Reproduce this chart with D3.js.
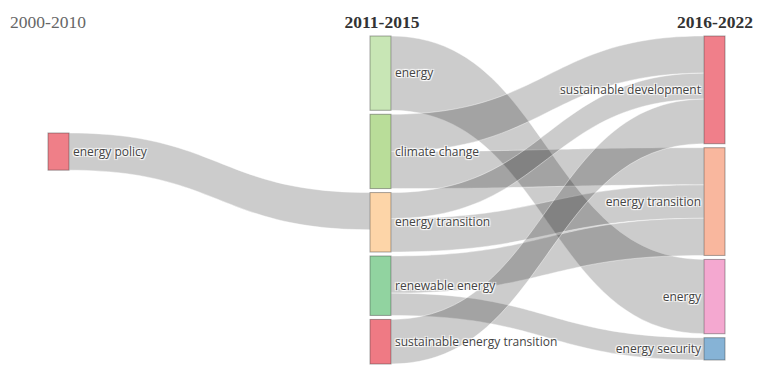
<!DOCTYPE html>
<html>
<head>
<meta charset="utf-8">
<script src="https://cdn.jsdelivr.net/npm/d3@7"></script>
<style>
  body { margin: 0; background: #fff; }
  .label { font-family: "Open Sans", sans-serif; font-size: 12px; fill: #444;
    text-shadow: 1px 1px 1px #fff, 1px -1px 1px #fff, -1px 1px 1px #fff, -1px -1px 1px #fff; }
  .period { font-family: "Liberation Serif", serif; font-size: 17.5px; }
</style>
</head>
<body>
<div id="chart"></div>
<script>
var width = 763;
var height = 378;

// periods (column headers)
var periods = ["2000-2010", "2011-2015", "2016-2022"];

// nodes
var nodeLabels = ["energy policy",
  "energy", "climate change", "energy transition", "renewable energy", "sustainable energy transition",
  "sustainable development", "energy transition", "energy", "energy security"];
var nodeColumn = [0, 1, 1, 1, 1, 1, 2, 2, 2, 2];
var nodeColors = ["#ef7f88",
  "#c8e6b5", "#b9dd99", "#fdd5a8", "#91d3a0", "#ef7a84",
  "#f07f8a", "#f9b79e", "#f4a8d0", "#86b3d6"];

// links
var linkSource = [0, 1, 2, 2, 3, 3, 4, 4, 5];
var linkTarget = [3, 8, 6, 7, 6, 7, 7, 9, 6];
var linkValue  = [5, 10, 5, 5, 3.5, 4.5, 5, 3, 6];

var svg = d3.select("#chart").append("svg").attr("width", width).attr("height", height);

// note: "top" is a reserved window global, so use yTop
var nodeW = 21, pad = 4, yTop = 36, yBottom = 364, policyTop = 133;
var colX = d3.scaleOrdinal().domain([0, 1, 2]).range([48, 370, 704]);
var headX = d3.scaleOrdinal().domain([0, 1, 2]).range([48, 382, 715]);

var nodes = nodeLabels.map(function(d, i) {
  return { name: d, col: nodeColumn[i], color: nodeColors[i], ins: [], outs: [] };
});
var links = linkValue.map(function(v, i) {
  var l = { source: nodes[linkSource[i]], target: nodes[linkTarget[i]], value: v };
  l.source.outs.push(l); l.target.ins.push(l);
  return l;
});
nodes.forEach(function(n) {
  n.value = Math.max(d3.sum(n.ins, function(l) { return l.value; }), d3.sum(n.outs, function(l) { return l.value; }));
});

// vertical scale: the fullest column fills yTop..yBottom
var cols = d3.groups(nodes, function(n) { return n.col; });
var ky = d3.min(cols, function(c) {
  return (yBottom - yTop - (c[1].length - 1) * pad) / d3.sum(c[1], function(n) { return n.value; });
});
var yv = d3.scaleLinear().domain([0, 1]).range([0, ky]);

cols.forEach(function(c) {
  var y = c[0] === 0 ? policyTop : yTop;
  c[1].forEach(function(n) {
    n.x0 = colX(n.col); n.x1 = n.x0 + nodeW;
    n.y0 = y; n.y1 = y + yv(n.value);
    y = n.y1 + pad;
  });
});

nodes.forEach(function(n) {
  n.outs.sort(function(a, b) { return a.target.y0 - b.target.y0; });
  n.ins.sort(function(a, b) { return a.source.y0 - b.source.y0; });
  var y = n.y0;
  n.outs.forEach(function(l) { l.sy0 = y; y += yv(l.value); l.sy1 = y; });
  y = n.y0;
  n.ins.forEach(function(l) { l.ty0 = y; y += yv(l.value); l.ty1 = y; });
});

function ribbon(l) {
  var x0 = l.source.x1, x1 = l.target.x0, xm = (x0 + x1) / 2;
  var p = d3.path();
  p.moveTo(x0, l.sy0);
  p.bezierCurveTo(xm, l.sy0, xm, l.ty0, x1, l.ty0);
  p.lineTo(x1, l.ty1);
  p.bezierCurveTo(xm, l.ty1, xm, l.sy1, x0, l.sy1);
  p.closePath();
  return p.toString();
}

svg.append("g").selectAll("path")
  .data(links)
  .enter().append("path")
    .attr("d", ribbon)
    .attr("fill", "rgba(0,0,0,0.2)")
    .attr("stroke", "rgba(255,255,255,0.7)")
    .attr("stroke-width", 0.6);

svg.append("g").selectAll("rect")
  .data(nodes)
  .enter().append("rect")
    .attr("x", function(d) { return d.x0; })
    .attr("y", function(d) { return d.y0; })
    .attr("width", nodeW)
    .attr("height", function(d) { return d.y1 - d.y0; })
    .attr("fill", function(d) { return d.color; })
    .attr("stroke", "rgba(60,60,60,0.45)")
    .attr("stroke-width", 1);

svg.append("g").selectAll("text")
  .data(nodes)
  .enter().append("text")
    .attr("class", "label")
    .attr("x", function(d) { return d.col === 2 ? d.x0 - 3 : d.x1 + 4; })
    .attr("y", function(d) { return (d.y0 + d.y1) / 2; })
    .attr("dy", "0.35em")
    .attr("text-anchor", function(d) { return d.col === 2 ? "end" : "start"; })
    .text(function(d) { return d.name; });

svg.append("g").selectAll("text")
  .data(periods)
  .enter().append("text")
    .attr("class", "period")
    .attr("x", function(d, i) { return headX(i); })
    .attr("y", 28)
    .attr("text-anchor", "middle")
    .attr("font-weight", function(d, i) { return i === 0 ? "normal" : "bold"; })
    .attr("fill", function(d, i) { return i === 0 ? "#666" : "#333"; })
    .text(function(d) { return d; });
</script>
</body>
</html>
